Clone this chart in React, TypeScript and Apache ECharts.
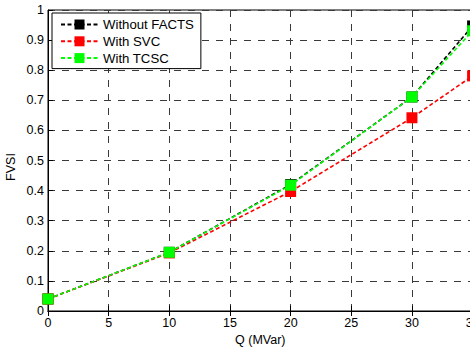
import React, { useEffect, useRef } from "react";
import * as echarts from "echarts";

// Reactive power injection (MVar)
const qValues = [0, 10, 20, 30, 35];
// FVSI for each case
const withoutFacts = [0.04, 0.195, 0.42, 0.711, 0.947];
const withSvc = [0.04, 0.193, 0.397, 0.642, 0.781];
const withTcsc = [0.04, 0.195, 0.418, 0.711, 0.931];

const seriesNames = ["Without FACTS", "With SVC", "With TCSC"];
const seriesColors = ["#000000", "#ff0000", "#00ff00"];

const FONT = "'Liberation Sans', Arial, sans-serif";

export default function App() {
  const ref = useRef<HTMLDivElement>(null);

  useEffect(() => {
    if (!ref.current) return;
    const chart = echarts.init(ref.current, undefined, { renderer: "svg" });

    const pairs = (ys: number[]) => qValues.map((q, i) => [q, ys[i]]);
    const allData = [withoutFacts, withSvc, withTcsc];

    const gridDash = {
      show: true,
      lineStyle: { color: "#3a3a3a", width: 1, type: [7, 7] as number[] },
    };

    chart.setOption({
      animation: false,
      backgroundColor: "#ffffff",
      textStyle: { fontFamily: FONT },
      grid: {
        left: 48,
        top: 10,
        width: 424.6,
        height: 301,
        containLabel: false,
        outerBoundsMode: "none",
        show: true,
        borderColor: "#000",
        borderWidth: 1,
        backgroundColor: "transparent",
      },
      legend: {
        left: 52,
        top: 13,
        orient: "vertical",
        backgroundColor: "#ffffff",
        borderColor: "#000000",
        borderWidth: 1,
        padding: [5, 7, 4, 8],
        itemGap: 3.8,
        itemWidth: 37,
        itemHeight: 12.5,
        textStyle: { fontFamily: FONT, fontSize: 13.2, color: "#000" },
        data: seriesNames,
      },
      xAxis: [
        {
          type: "value",
          min: 0,
          max: 35,
          interval: 5,
          axisLine: { show: true, onZero: false, lineStyle: { color: "#000", width: 1 } },
          axisTick: { show: true, inside: true, length: 5, lineStyle: { color: "#000" } },
          axisLabel: { color: "#000", fontSize: 12.5, fontFamily: FONT, margin: 5 },
          splitLine: gridDash,
          name: "Q (MVar)",
          nameLocation: "middle",
          nameGap: 20,
          nameTextStyle: { color: "#000", fontSize: 12.5, fontFamily: FONT },
        },
        {
          type: "value",
          position: "top",
          min: 0,
          max: 35,
          interval: 5,
          axisLine: { show: true, lineStyle: { color: "#000", width: 1 } },
          axisTick: { show: true, inside: true, length: 5, lineStyle: { color: "#000" } },
          axisLabel: { show: false },
          splitLine: { show: false },
        },
      ],
      yAxis: {
        type: "value",
        min: 0,
        max: 1,
        interval: 0.1,
        axisLine: { show: true, onZero: false, lineStyle: { color: "#000", width: 1 } },
        axisTick: { show: true, inside: true, length: 5, lineStyle: { color: "#000" } },
        axisLabel: {
          color: "#000",
          fontSize: 12.5,
          fontFamily: FONT,
          margin: 4,
          formatter: (v: number) => String(Math.round(v * 10) / 10),
        },
        splitLine: gridDash,
      },
      graphic: [
        {
          type: "text",
          x: 11,
          y: 167,
          rotation: Math.PI / 2,
          style: {
            text: "FVSI",
            fill: "#000",
            font: `12.5px ${FONT}`,
            align: "center",
            verticalAlign: "middle",
          },
        },
      ],
      series: seriesNames.map((name, i) => ({
        name,
        type: "line",
        xAxisIndex: 0,
        data: pairs(allData[i]),
        symbol: "rect",
        symbolSize: 11,
        clip: false,
        z: 3 + i,
        lineStyle: { color: seriesColors[i], width: 1.6, type: [4, 2.5] },
        itemStyle: { color: seriesColors[i], borderColor: seriesColors[i], borderWidth: 0 },
      })),
    });

    return () => chart.dispose();
  }, []);

  return (
    <div
      ref={ref}
      style={{ position: "fixed", left: 0, top: 0, width: 470, height: 359, background: "#fff" }}
    />
  );
}
